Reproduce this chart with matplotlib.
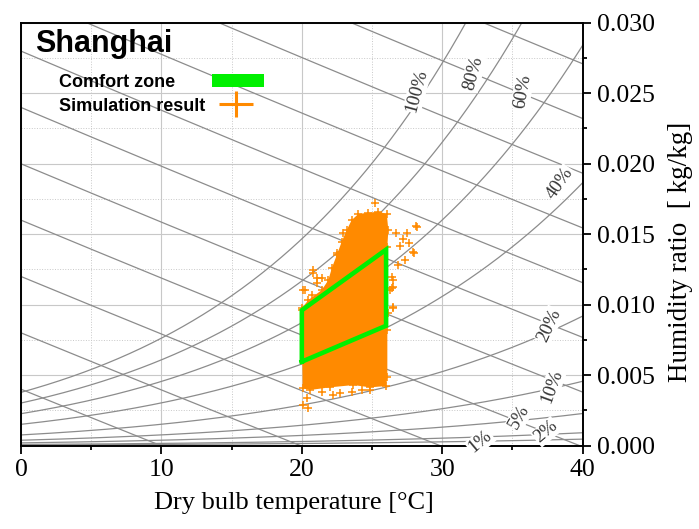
import numpy as np
import matplotlib.pyplot as plt
from matplotlib.patches import Rectangle
from matplotlib.ticker import MultipleLocator, FormatStrFormatter

P_ATM = 101.325  # kPa

# psychrometric background
rh_levels = [1, 2, 5, 10, 20, 40, 60, 80, 100]
enthalpy_levels = [10, 20, 30, 40, 50, 60, 70, 80, 90, 100, 110]

# where the % labels sit (dry bulb, humidity ratio, rotation)
rh_label_t = [32.7, 37.4, 35.5, 37.8, 37.6, 38.4, 35.7, 32.2, 28.2]
rh_label_w = [0.00027, 0.00098, 0.00204, 0.00417, 0.00855, 0.0186, 0.0251, 0.0264, 0.0252]
rh_label_rot = [40, 40, 60, 70, 65, 55, 80, 75, 75]

# comfort zone corners
comfort_t = [20, 20, 26, 26, 20]
comfort_w = [0.00595, 0.0096, 0.0139, 0.0085, 0.00595]

# outline of the dense part of the simulation cloud
cloud_t = [20.06, 19.99, 19.99, 20.46, 21.42, 21.89, 22.13, 22.49, 22.84, 23.20,
           23.55, 24.03, 24.74, 25.45, 26.05, 26.16, 26.09, 26.09, 26.09, 26.00,
           24.86, 23.67, 22.01, 20.58]
cloud_w = [0.00406, 0.00961, 0.00973, 0.01032, 0.01103, 0.01174, 0.01257, 0.01352, 0.01446, 0.01529,
           0.01600, 0.01643, 0.01652, 0.01659, 0.01643, 0.01529, 0.01411, 0.00820, 0.00488, 0.00422,
           0.00413, 0.00429, 0.00413, 0.00394]

# scattered points outside the dense part
scatter_t = [25.21, 28.13, 26.71, 27.47, 27.23, 27.66, 26.99, 27.99, 27.35, 26.87,
             26.52, 26.40, 26.52, 22.96, 22.49, 20.82, 21.42, 20.23, 20.71, 21.06,
             28.18, 27.94, 26.52, 26.52, 26.28, 20.11, 20.46, 21.42, 22.24, 22.72,
             23.55, 24.25, 24.86, 20.35, 26.16, 26.40, 20.82, 21.06, 20.11]
scatter_w = [0.01723, 0.01558, 0.01506, 0.01506, 0.01463, 0.01439, 0.01416, 0.01364, 0.01316, 0.01281,
             0.01174, 0.01115, 0.00974, 0.01506, 0.01364, 0.01222, 0.01186, 0.01103, 0.01068, 0.01151,
             0.01551, 0.01375, 0.01127, 0.00985, 0.01103, 0.00287, 0.00264, 0.00382, 0.00358, 0.00375,
             0.00382, 0.00394, 0.00394, 0.00335, 0.00938, 0.01198, 0.01245, 0.01186, 0.01103]

GREEN = '#00f000'
ORANGE = '#ff8a00'
LINE_GRAY = '#8c8c8c'
GRID_GRAY = '#c8c8c8'


def sat_pressure(t):
    return 0.61094 * np.exp(17.625 * t / (t + 243.04))


def humidity_ratio(t, rh):
    pw = rh / 100.0 * sat_pressure(t)
    return 0.622 * pw / (P_ATM - pw)


def const_enthalpy(t, h):
    return (h - 1.006 * t) / (2501.0 + 1.86 * t)


fig = plt.figure(figsize=(6.99, 5.29), dpi=100)
ax = fig.add_axes([0.0300, 0.1578, 0.8036, 0.7992])

t = np.linspace(0, 40, 400)
for rh in rh_levels:
    ax.plot(t, humidity_ratio(t, rh), color=LINE_GRAY, lw=0.9, zorder=2)
for h in enthalpy_levels:
    ax.plot(t, const_enthalpy(t, h), color=LINE_GRAY, lw=0.9, zorder=2)

for tt, ww, rot, rh in zip(rh_label_t, rh_label_w, rh_label_rot, rh_levels):
    ax.text(tt, ww, '%d%%' % rh, rotation=rot, ha='center', va='center',
            fontsize=13.5, family='Liberation Serif', color='#333333', zorder=5,
            rotation_mode='anchor',
            bbox=dict(boxstyle='square,pad=0.05', fc='white', ec='none'))

# simulation result cloud
ax.fill(cloud_t, cloud_w, color=ORANGE, lw=0, zorder=3)
ax.scatter(cloud_t + scatter_t, cloud_w + scatter_w, marker='+', s=36,
           color=ORANGE, linewidths=1.1, zorder=3)

# comfort zone
ax.plot(comfort_t, comfort_w, color=GREEN, lw=3.3, solid_joinstyle='miter', zorder=4)

ax.set_xlim(0, 40)
ax.set_ylim(0, 0.030)
ax.xaxis.set_major_locator(MultipleLocator(10))
ax.xaxis.set_minor_locator(MultipleLocator(5))
ax.yaxis.set_major_locator(MultipleLocator(0.005))
ax.yaxis.set_minor_locator(MultipleLocator(0.0025))
ax.yaxis.set_major_formatter(FormatStrFormatter('%.3f'))
ax.yaxis.tick_right()
ax.yaxis.set_label_position('right')

ax.grid(which='major', color=GRID_GRAY, lw=0.8, zorder=0)
ax.grid(which='minor', color=GRID_GRAY, lw=0.7, ls=':', zorder=0)
ax.set_axisbelow(True)

for sp in ax.spines.values():
    sp.set_linewidth(1.4)
ax.tick_params(which='both', direction='out', width=1.3, top=False, left=False,
               right=True, bottom=True, labelright=True, labelleft=False)
ax.tick_params(which='major', length=6, pad=4, labelsize=18.5)
ax.tick_params(which='minor', length=3.2)
for lab in ax.get_xticklabels() + ax.get_yticklabels():
    lab.set_family('Liberation Serif')

ax.set_xlabel('Dry bulb temperature [°C]', family='Liberation Serif', fontsize=19)
ax.xaxis.set_label_coords(0.486, -0.110)
ax.set_ylabel('Humidity ratio  [ kg/kg]', family='Liberation Serif', fontsize=19.5)
ax.yaxis.set_label_coords(1.152, 0.458)

# title and legend
ax.text(0.0249, 0.931, 'Shanghai', transform=ax.transAxes, family='Liberation Sans',
        fontweight='bold', fontsize=22, va='baseline', zorder=6)
ax.text(0.0682, 0.847, 'Comfort zone', transform=ax.transAxes, family='Liberation Sans',
        fontweight='bold', fontsize=13, va='baseline', zorder=6)
ax.text(0.0682, 0.792, 'Simulation result', transform=ax.transAxes, family='Liberation Sans',
        fontweight='bold', fontsize=13, va='baseline', zorder=6)
ax.add_patch(Rectangle((0.3406, 0.848), 0.0926, 0.0307, transform=ax.transAxes,
                       color=GREEN, lw=0, zorder=6))
ax.plot([0.3524, 0.4130], [0.8077, 0.8077], transform=ax.transAxes, color=ORANGE, lw=2.2,
        solid_capstyle='butt', zorder=6)
ax.plot([0.3828, 0.3828], [0.7761, 0.8392], transform=ax.transAxes, color=ORANGE, lw=2.2,
        solid_capstyle='butt', zorder=6)

fig.savefig('out.png', dpi=100)
